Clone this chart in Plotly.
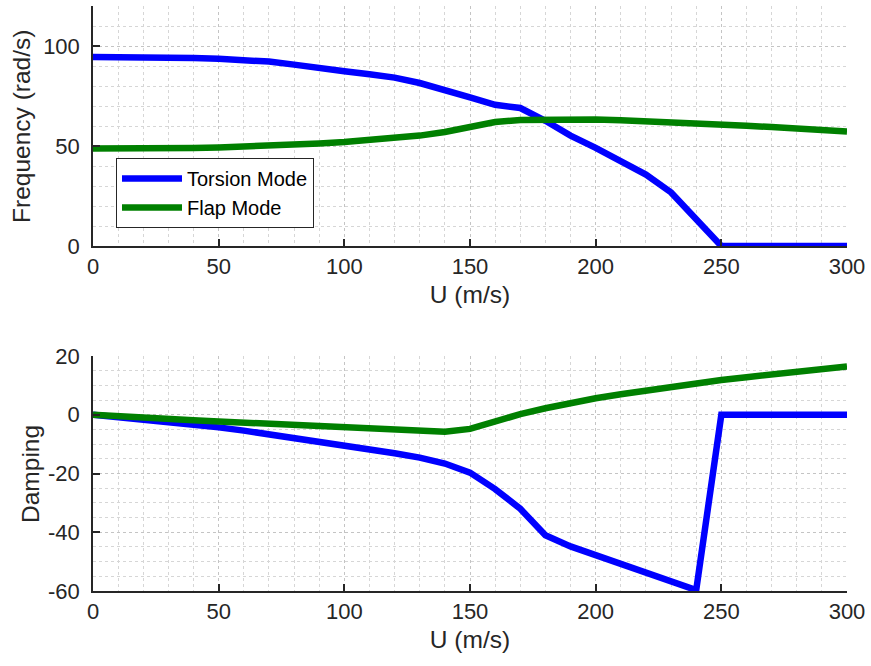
import plotly.graph_objects as go

U = list(range(0, 301, 10))

freq_torsion = [94.5, 94.5, 94.4, 94.3, 94.0, 93.6, 93.1, 92.2, 90.7, 88.8,
                87.4, 85.9, 84.2, 81.5, 78.2, 74.3, 70.6, 69.0, 62.6, 55.2,
                49.1, 42.5, 35.7, 26.8, 13.0, 0, 0, 0, 0, 0, 0]
freq_flap = [48.8, 48.7, 48.7, 48.8, 49.0, 49.3, 49.6, 50.0, 50.6, 51.3,
             52.0, 52.8, 53.8, 55.2, 57.0, 59.5, 62.0, 63.0, 63.3, 63.3,
             63.2, 62.9, 62.5, 62.0, 61.4, 60.8, 60.1, 59.5, 58.8, 58.0, 57.3]
damp_torsion = [0, -0.8, -1.5, -2.3, -3.2, -4.3, -5.4, -6.6, -7.9, -9.2,
                -10.5, -11.8, -13.1, -14.6, -16.6, -19.7, -25.3, -32.0, -41.0, -44.8,
                -47.8, -50.8, -53.7, -56.7, -59.7, 0, 0, 0, 0, 0, 0]
damp_flap = [0, -0.6, -1.0, -1.4, -1.9, -2.3, -2.7, -3.1, -3.5, -3.9,
             -4.2, -4.6, -5.0, -5.4, -5.8, -4.8, -2.2, 0.2, 2.2, 4.0,
             5.6, 7.0, 8.3, 9.5, 10.7, 11.8, 12.8, 13.8, 14.7, 15.6, 16.4]

names = ["Torsion Mode", "Flap Mode"]
colors = ["#0000FF", "#008000"]

x_ticks = [0, 50, 100, 150, 200, 250, 300]
freq_ticks = [0, 50, 100]
damp_ticks = [-60, -40, -20, 0, 20]
damp_ticktext = ["-60", "-40", "-20", "0", "20"]

FONT = "Liberation Sans, Arial, sans-serif"
TXT = "#262626"

fig = go.Figure()
fig.add_trace(go.Scatter(x=U, y=freq_torsion, mode="lines", name=names[0],
                         line=dict(color=colors[0], width=6.5), xaxis="x", yaxis="y"))
fig.add_trace(go.Scatter(x=U, y=freq_flap, mode="lines", name=names[1],
                         line=dict(color=colors[1], width=6.5), xaxis="x", yaxis="y"))
fig.add_trace(go.Scatter(x=U, y=damp_torsion, mode="lines", name=names[0], showlegend=False,
                         line=dict(color=colors[0], width=6.5), xaxis="x2", yaxis="y2"))
fig.add_trace(go.Scatter(x=U, y=damp_flap, mode="lines", name=names[1], showlegend=False,
                         line=dict(color=colors[1], width=6.5), xaxis="x2", yaxis="y2"))

def xax(anchor):
    return dict(
        range=[0, 300], tickvals=x_ticks, anchor=anchor, automargin=False,
        showline=True, linecolor=TXT, linewidth=1.5, mirror=False,
        ticks="inside", ticklen=7, tickwidth=1.5, tickcolor=TXT,
        tickfont=dict(size=22, color=TXT, family=FONT),
        showgrid=True, gridcolor="#c4c4c4", griddash="dot", gridwidth=1,
        minor=dict(dtick=10, tick0=0, showgrid=True, gridcolor="#d6d6d6", griddash="dot", gridwidth=1, ticks=""),
        zeroline=False,
        title=dict(text="U (m/s)", font=dict(size=24.5, color=TXT, family=FONT), standoff=8),
    )

def yax(anchor, rng, tickvals, ticktext, mdtick):
    return dict(
        range=rng, tickvals=tickvals, ticktext=ticktext, anchor=anchor, automargin=False,
        showline=True, linecolor=TXT, linewidth=1.5, mirror=False,
        ticks="inside", ticklen=7, tickwidth=1.5, tickcolor=TXT,
        tickfont=dict(size=22, color=TXT, family=FONT),
        showgrid=True, gridcolor="#c4c4c4", griddash="dot", gridwidth=1,
        minor=dict(dtick=mdtick, tick0=0, showgrid=True, gridcolor="#d6d6d6", griddash="dot", gridwidth=1, ticks=""),
        zeroline=False, ticklabelstandoff=7,
    )

fig.update_layout(
    width=871, height=666,
    margin=dict(l=93, r=24, t=6, b=75),
    paper_bgcolor="white", plot_bgcolor="white",
    font=dict(family=FONT, color=TXT),
    xaxis=dict(**xax("y"), domain=[0, 1]),
    yaxis=dict(**yax("x", [0, 120], freq_ticks, [str(v) for v in freq_ticks], 10), domain=[0.5897, 1]),
    xaxis2=dict(**xax("y2"), domain=[0, 1]),
    yaxis2=dict(**yax("x2", [-60, 20], damp_ticks, damp_ticktext, 5), domain=[0, 0.4017]),
    legend=dict(x=0.0305, y=0.740, xanchor="left", yanchor="top",
                bgcolor="white", bordercolor=TXT, borderwidth=1,
                font=dict(size=20, color="black", family=FONT),
                entrywidth=205, entrywidthmode="pixels",
                itemwidth=60, tracegroupgap=0),
    showlegend=True,
    annotations=[
        dict(text="Frequency (rad/s)", textangle=-90, xref="paper", yref="paper",
             x=-0.0942, y=0.795, xanchor="center", yanchor="middle", showarrow=False,
             font=dict(size=24.5, color=TXT, family=FONT)),
        dict(text="Damping", textangle=-90, xref="paper", yref="paper",
             x=-0.0836, y=0.2, xanchor="center", yanchor="middle", showarrow=False,
             font=dict(size=24.5, color=TXT, family=FONT)),
    ],
)

fig.write_html("out.html")
